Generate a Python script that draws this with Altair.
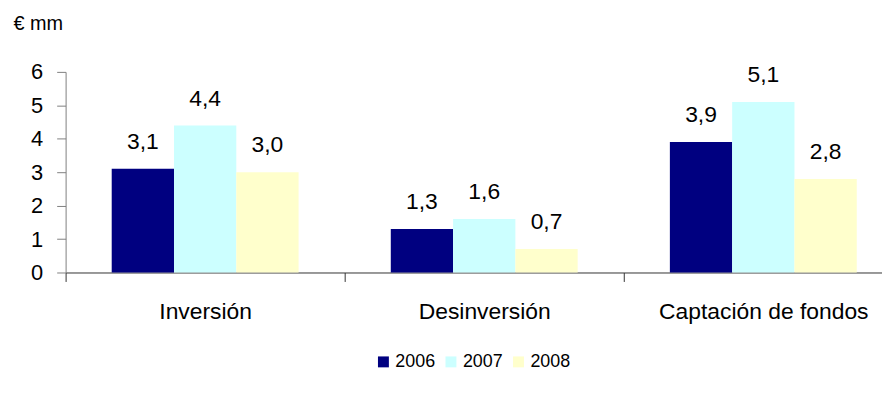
import altair as alt
import pandas as pd

categories = ["Inversión", "Desinversión", "Captación de fondos"]
years = ["2006", "2007", "2008"]
v2006 = [3.1, 1.3, 3.9]
v2007 = [4.4, 1.6, 5.1]
v2008 = [3.0, 0.7, 2.8]
colors = ["#000080", "#CCFFFF", "#FFFFCC"]
y_ticks = [0, 1, 2, 3, 4, 5, 6]

rows = []
for i, c in enumerate(categories):
    for yr, vals in zip(years, [v2006, v2007, v2008]):
        rows.append({"cat": c, "year": yr, "value": vals[i]})
df = pd.DataFrame(rows)

x_enc = alt.X(
    "cat:N",
    sort=categories,
    title=None,
    scale=alt.Scale(range=[0, 843], paddingInner=0, paddingOuter=0),
    axis=alt.Axis(
        tickBand="extent",
        labelAngle=0,
        labelFontSize=23,
        labelLimit=0,
        labelColor="#000000",
        labelPadding=19,
        tickSize=9,
        domainColor="#333333",
        tickColor="#333333",
        grid=False,
        labelBaseline="top",
    ),
)
xo_enc = alt.XOffset(
    "year:N", sort=years, scale=alt.Scale(paddingInner=0, paddingOuter=0.74)
)
y_enc = alt.Y(
    "value:Q",
    scale=alt.Scale(domain=[0, 6], nice=False),
    axis=alt.Axis(
        values=y_ticks,
        tickCount=7,
        labelOverlap=False,
        grid=False,
        labelFontSize=22,
        labelColor="#000000",
        tickSize=9,
        labelPadding=14,
        domainColor="#808080",
        tickColor="#808080",
        title="€ mm",
        titleAngle=0,
        titleAlign="left",
        titleBaseline="alphabetic",
        titleX=-53,
        titleY=-43,
        titleFontSize=20,
        titleFontWeight="normal",
        titleColor="#000000",
    ),
)

base = alt.Chart(df).transform_calculate(
    label="replace(format(datum.value, '.1f'), '.', ',')"
).encode(x=x_enc, xOffset=xo_enc, y=y_enc)

bars = base.mark_bar().encode(
    color=alt.Color(
        "year:N",
        sort=years,
        scale=alt.Scale(domain=years, range=colors),
        legend=alt.Legend(
            orient="none",
            legendX=311,
            legendY=283,
            direction="horizontal",
            title=None,
            symbolType="square",
            symbolSize=121,
            symbolStrokeWidth=0,
            labelFontSize=18,
            labelColor="#000000",
            columnPadding=6,
            labelOffset=3,
        ),
    ),
)

labels = base.mark_text(
    dy=-20, baseline="alphabetic", fontSize=23, color="#000000"
).encode(text="label:N")

chart = (
    alt.layer(bars, labels)
    .properties(
        width=822,
        height=202,
        autosize=alt.AutoSizeParams(type="none"),
        padding={"left": 58, "top": 63, "right": 0, "bottom": 119},
    )
    .configure(font="Liberation Sans")
    .configure_view(stroke=None)
)

chart.save("out.html", embed_options={"renderer": "svg", "actions": False})
